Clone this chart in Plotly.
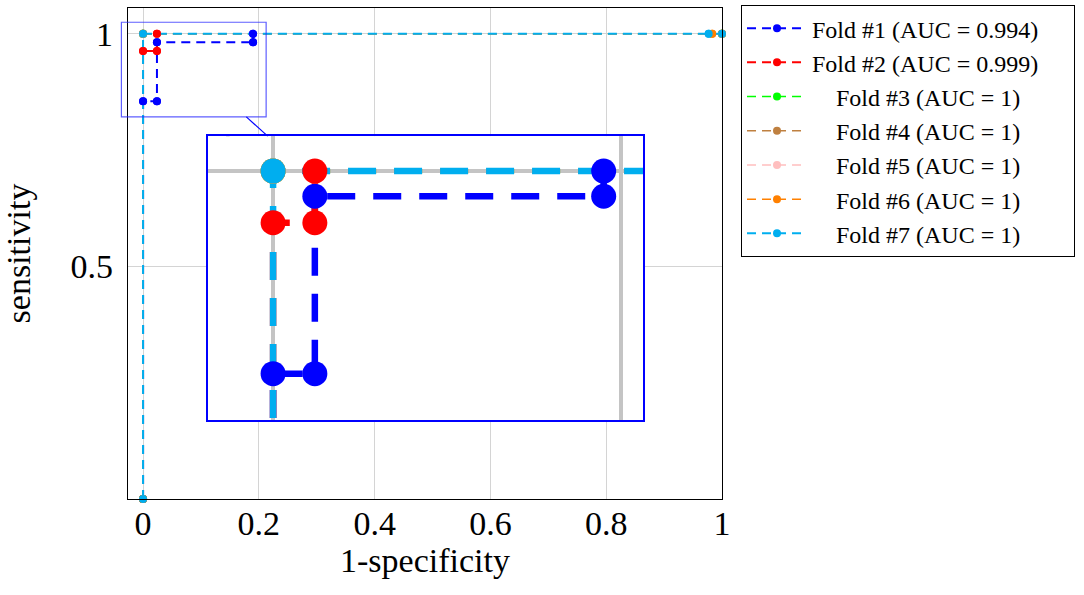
import plotly.graph_objects as go

# ROC points per fold (1-specificity, sensitivity)
fold_names = ["Fold #1 (AUC = 0.994)\u2002\u2002\u2005", "Fold #2 (AUC = 0.999)\u2002\u2002\u2005",
              "\u2002\u2002Fold #3 (AUC = 1)", "\u2002\u2002Fold #4 (AUC = 1)",
              "\u2002\u2002Fold #5 (AUC = 1)", "\u2002\u2002Fold #6 (AUC = 1)",
              "\u2002\u2002Fold #7 (AUC = 1)"]
fold_colors = ["#0000ff", "#ff0000", "#00ff00", "#bf8040", "#ffbfbf", "#ff8000", "#00aeef"]

# folds 1 and 2 run along sensitivity = 1 under fold 7, so they stop at the last corner
fold1_fpr = [0, 0, 0.024, 0.024, 0.19, 0.19]
fold1_tpr = [0, 0.855, 0.855, 0.982, 0.982, 1]
fold2_fpr = [0, 0, 0.024, 0.024]
fold2_tpr = [0, 0.963, 0.963, 1]
fold3_fpr = [0, 0, 1]
fold3_tpr = [0, 1, 1]
fold4_fpr = [0, 0, 1]
fold4_tpr = [0, 1, 1]
fold5_fpr = [0, 0, 1]
fold5_tpr = [0, 1, 1]
fold6_fpr = [0, 0, 0.983, 1]
fold6_tpr = [0, 1, 1, 1]
fold7_fpr = [0, 0, 0.977, 1]
fold7_tpr = [0, 1, 1, 1]

fprs = [fold1_fpr, fold2_fpr, fold3_fpr, fold4_fpr, fold5_fpr, fold6_fpr, fold7_fpr]
tprs = [fold1_tpr, fold2_tpr, fold3_tpr, fold4_tpr, fold5_tpr, fold6_tpr, fold7_tpr]
# folds 3-6 lie exactly under fold 7: keep them a bit thinner so their edges don't bleed
line_widths = [2, 2, 1.5, 1.5, 1.5, 1.5, 2]

x_ticks = [0, 0.2, 0.4, 0.6, 0.8, 1]
x_tick_labels = ["0", "0.2", "0.4", "0.6", "0.8", "1"]
y_ticks = [0.5, 1]
y_tick_labels = ["0.5", "1"]

# axis ranges, spy region and inset placement
X_RANGE = [-0.026, 1.0]
Y_RANGE = [0.0, 1.0556]
SPY_X = [-0.0374, 0.2126]
SPY_Y = [0.8215, 1.025]
INSET_DX = [0.1347, 0.867]
INSET_DY = [0.160, 0.739]

FONT = "Liberation Serif"

fig = go.Figure()

# main plot: lines first (with legend), then markers on top
for name, color, lw, fx, ty in zip(fold_names, fold_colors, line_widths, fprs, tprs):
    fig.add_trace(go.Scatter(x=fx, y=ty, name=name, mode="lines+markers",
                             line=dict(color=color, width=lw, dash="9px,6px"),
                             marker=dict(color=color, size=8),
                             cliponaxis=False))
for color, fx, ty in zip(fold_colors, fprs, tprs):
    fig.add_trace(go.Scatter(x=fx, y=ty, mode="markers", showlegend=False,
                             marker=dict(color=color, size=8), cliponaxis=False,
                             hoverinfo="skip"))

# inset (zoomed copy)
for color, lw, fx, ty in zip(fold_colors, line_widths, fprs, tprs):
    fig.add_trace(go.Scatter(x=fx, y=ty, mode="lines", showlegend=False,
                             line=dict(color=color, width=lw * 3.25, dash="28px,18px"),
                             xaxis="x2", yaxis="y2", hoverinfo="skip"))
for color, fx, ty in zip(fold_colors, fprs, tprs):
    fig.add_trace(go.Scatter(x=fx, y=ty, mode="markers", showlegend=False,
                             marker=dict(color=color, size=25),
                             xaxis="x2", yaxis="y2", hoverinfo="skip"))


def to_paper_x(v):
    return (v - X_RANGE[0]) / (X_RANGE[1] - X_RANGE[0])


def to_paper_y(v):
    return (v - Y_RANGE[0]) / (Y_RANGE[1] - Y_RANGE[0])


# spy box on the main plot
bx0, bx1 = to_paper_x(SPY_X[0]), to_paper_x(SPY_X[1])
by0, by1 = to_paper_y(SPY_Y[0]), to_paper_y(SPY_Y[1])
fig.add_shape(type="rect", xref="paper", yref="paper", x0=bx0, x1=bx1, y0=by0, y1=by1,
              line=dict(color="rgba(40,40,255,0.75)", width=1.2))

# connector between centres, only outside both boxes
c1 = ((bx0 + bx1) / 2, (by0 + by1) / 2)
c2 = ((INSET_DX[0] + INSET_DX[1]) / 2, (INSET_DY[0] + INSET_DY[1]) / 2)
dx, dy = c2[0] - c1[0], c2[1] - c1[1]
t0 = min((bx1 - bx0) / 2 / abs(dx), (by1 - by0) / 2 / abs(dy))
t1 = 1 - min((INSET_DX[1] - INSET_DX[0]) / 2 / abs(dx), (INSET_DY[1] - INSET_DY[0]) / 2 / abs(dy))
fig.add_shape(type="line", xref="paper", yref="paper",
              x0=c1[0] + t0 * dx, y0=c1[1] + t0 * dy, x1=c1[0] + t1 * dx, y1=c1[1] + t1 * dy,
              line=dict(color="#0000ff", width=1.2))

# main left axis line seen inside the inset
fig.add_shape(type="line", xref="x2", yref="y2 domain", x0=X_RANGE[0], x1=X_RANGE[0], y0=0, y1=1,
              line=dict(color="black", width=3.5), layer="below")

tick_font = dict(family=FONT, size=34, color="black")
fig.update_layout(
    template="none",
    width=1084, height=595,
    margin=dict(l=128, r=362, t=5, b=96),
    plot_bgcolor="white", paper_bgcolor="white",
    font=dict(family=FONT, color="black"),
    xaxis=dict(range=X_RANGE, tickvals=x_ticks, ticktext=x_tick_labels,
               showgrid=True, gridcolor="#d4d4d4", gridwidth=1, zeroline=False,
               showline=True, mirror=True, linecolor="black", linewidth=1.3,
               tickfont=tick_font, ticks="", ticklabelstandoff=-6, automargin=False,
               title=dict(text="1-specificity", font=dict(family=FONT, size=34, color="black"),
                          standoff=2)),
    yaxis=dict(range=Y_RANGE, tickvals=y_ticks, ticktext=y_tick_labels,
               showgrid=True, gridcolor="#d4d4d4", gridwidth=1, zeroline=False,
               showline=True, mirror=True, linecolor="black", linewidth=1.3,
               tickfont=tick_font, ticks="", ticklabelstandoff=7, automargin=False,
               title=dict(text="sensitivity", font=dict(family=FONT, size=34, color="black"),
                          standoff=30)),
    xaxis2=dict(domain=INSET_DX, anchor="y2", range=SPY_X, tickvals=[0, 0.2],
                showticklabels=False, showgrid=True, gridcolor="#c4c4c4", gridwidth=3.5,
                zeroline=False, showline=True, mirror=True, linecolor="#0000ff", linewidth=2,
                ticks=""),
    yaxis2=dict(domain=INSET_DY, anchor="x2", range=SPY_Y, tickvals=[1],
                showticklabels=False, showgrid=True, gridcolor="#c4c4c4", gridwidth=3.5,
                zeroline=False, showline=True, mirror=True, linecolor="#0000ff", linewidth=2,
                ticks=""),
    legend=dict(x=1.032, y=1.006, xanchor="left", yanchor="top",
                bordercolor="black", borderwidth=1, bgcolor="white",
                font=dict(family=FONT, size=24, color="black"),
                itemwidth=60),
    showlegend=True,
)

# the page's default body margin would shift the figure by 8px
fig.write_html("out.html", config={"displayModeBar": False},
               post_script="document.body.style.margin='0px';")
